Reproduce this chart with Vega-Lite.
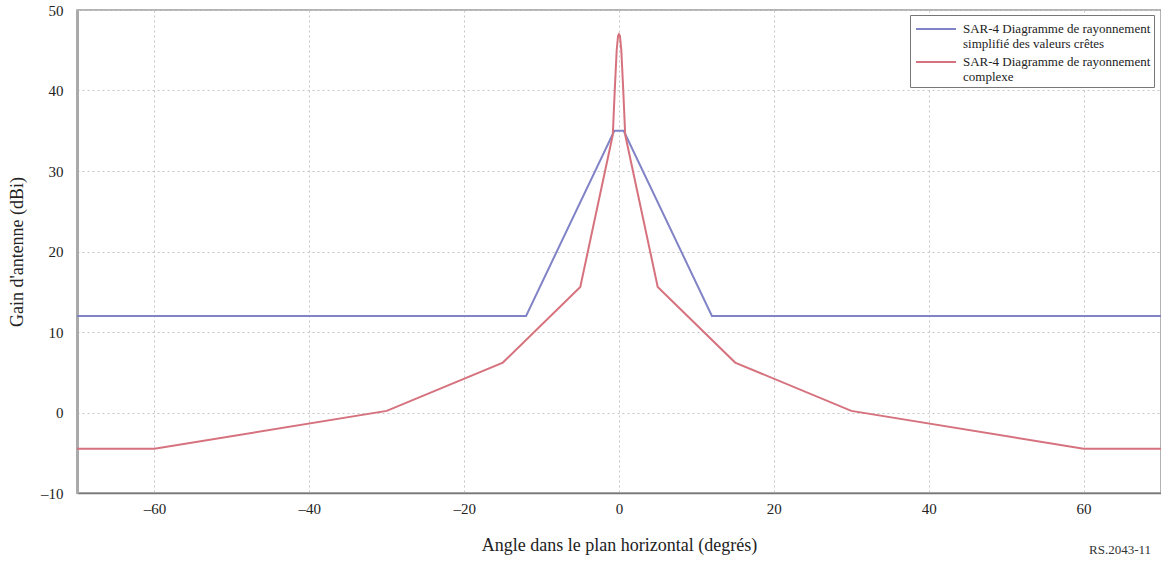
{
  "$schema": "https://vega.github.io/schema/vega-lite/v6.json",
  "width": 1084,
  "height": 483,
  "autosize": {"type": "none"},
  "padding": {"left": 77, "top": 10, "right": 0, "bottom": 69},
  "background": "white",
  "config": {
    "font": "Liberation Serif",
    "view": {"stroke": "#9a9a9a", "strokeWidth": 1.5},
    "legend": {"labelFont": "Liberation Serif"}
  },
  "title": {"text": "RS.2043-11", "orient": "bottom", "anchor": "end", "fontSize": 13, "fontWeight": "normal", "font": "Liberation Serif", "color": "#333", "offset": -10, "dx": -10},
  "data": {
    "values": [
      {"s": "SAR-4 Diagramme de rayonnement\nsimplifié des valeurs crêtes", "x": -70, "y": 12},
      {"s": "SAR-4 Diagramme de rayonnement\nsimplifié des valeurs crêtes", "x": -12, "y": 12},
      {"s": "SAR-4 Diagramme de rayonnement\nsimplifié des valeurs crêtes", "x": -0.6, "y": 35},
      {"s": "SAR-4 Diagramme de rayonnement\nsimplifié des valeurs crêtes", "x": 0.6, "y": 35},
      {"s": "SAR-4 Diagramme de rayonnement\nsimplifié des valeurs crêtes", "x": 12, "y": 12},
      {"s": "SAR-4 Diagramme de rayonnement\nsimplifié des valeurs crêtes", "x": 70, "y": 12},
      {"s": "SAR-4 Diagramme de rayonnement\ncomplexe", "x": -70, "y": -4.5},
      {"s": "SAR-4 Diagramme de rayonnement\ncomplexe", "x": -60, "y": -4.5},
      {"s": "SAR-4 Diagramme de rayonnement\ncomplexe", "x": -30, "y": 0.2},
      {"s": "SAR-4 Diagramme de rayonnement\ncomplexe", "x": -15, "y": 6.2},
      {"s": "SAR-4 Diagramme de rayonnement\ncomplexe", "x": -5, "y": 15.6},
      {"s": "SAR-4 Diagramme de rayonnement\ncomplexe", "x": -0.8, "y": 34.5},
      {"s": "SAR-4 Diagramme de rayonnement\ncomplexe", "x": -0.55, "y": 40},
      {"s": "SAR-4 Diagramme de rayonnement\ncomplexe", "x": -0.3, "y": 45},
      {"s": "SAR-4 Diagramme de rayonnement\ncomplexe", "x": -0.12, "y": 46.8},
      {"s": "SAR-4 Diagramme de rayonnement\ncomplexe", "x": 0, "y": 47},
      {"s": "SAR-4 Diagramme de rayonnement\ncomplexe", "x": 0.12, "y": 46.8},
      {"s": "SAR-4 Diagramme de rayonnement\ncomplexe", "x": 0.3, "y": 45},
      {"s": "SAR-4 Diagramme de rayonnement\ncomplexe", "x": 0.55, "y": 40},
      {"s": "SAR-4 Diagramme de rayonnement\ncomplexe", "x": 0.8, "y": 34.5},
      {"s": "SAR-4 Diagramme de rayonnement\ncomplexe", "x": 5, "y": 15.6},
      {"s": "SAR-4 Diagramme de rayonnement\ncomplexe", "x": 15, "y": 6.2},
      {"s": "SAR-4 Diagramme de rayonnement\ncomplexe", "x": 30, "y": 0.2},
      {"s": "SAR-4 Diagramme de rayonnement\ncomplexe", "x": 60, "y": -4.5},
      {"s": "SAR-4 Diagramme de rayonnement\ncomplexe", "x": 70, "y": -4.5}
    ]
  },
  "mark": {"type": "line", "strokeWidth": 2, "clip": true},
  "encoding": {
    "x": {
      "field": "x", "type": "quantitative",
      "scale": {"domain": [-70, 70], "nice": false, "zero": false},
      "axis": {
        "title": "Angle dans le plan horizontal (degrés)",
        "titleFont": "Liberation Serif", "titleFontSize": 18, "titleFontWeight": "normal", "titleColor": "#222", "titlePadding": 20,
        "values": [-60, -40, -20, 0, 20, 40, 60],
        "labelExpr": "datum.value < 0 ? '–' + abs(datum.value) : datum.label",
        "labelFont": "Liberation Serif", "labelFontSize": 15, "labelColor": "#222", "labelPadding": 8,
        "grid": true, "gridColor": "#c4c4c4", "gridDash": [2, 3], "gridWidth": 1,
        "domainColor": "#777", "domainWidth": 1.5,
        "ticks": false
      }
    },
    "y": {
      "field": "y", "type": "quantitative",
      "scale": {"domain": [-10, 50], "nice": false, "zero": false},
      "axis": {
        "title": "Gain d'antenne (dBi)",
        "titleFont": "Liberation Serif", "titleFontSize": 18, "titleFontWeight": "normal", "titleColor": "#222", "titlePadding": 14,
        "values": [-10, 0, 10, 20, 30, 40, 50],
        "labelExpr": "datum.value < 0 ? '–' + abs(datum.value) : datum.label",
        "labelFont": "Liberation Serif", "labelFontSize": 15, "labelColor": "#222", "labelPadding": 14,
        "grid": true, "gridColor": "#c4c4c4", "gridDash": [2, 3], "gridWidth": 1,
        "domainColor": "#aaa", "domainWidth": 3,
        "ticks": false
      }
    },
    "color": {
      "field": "s", "type": "nominal",
      "sort": ["SAR-4 Diagramme de rayonnement\nsimplifié des valeurs crêtes", "SAR-4 Diagramme de rayonnement\ncomplexe"],
      "scale": {"range": ["#8083c6", "#d6727e"]},
      "legend": {
        "title": null,
        "orient": "none", "legendX": 833, "legendY": 5,
        "labelExpr": "split(datum.label, '\\n')",
        "labelFont": "Liberation Serif", "labelFontSize": 13, "labelColor": "#222", "labelLimit": 300,
        "symbolType": "M-2,0H2", "symbolSize": 400, "symbolStrokeWidth": 2, "symbolFillColor": "transparent",
        "symbolOffset": 12,
        "strokeColor": "#777", "padding": 3, "rowPadding": 0, "labelOffset": 16,
        "fillColor": "white"
      }
    }
  }
}
